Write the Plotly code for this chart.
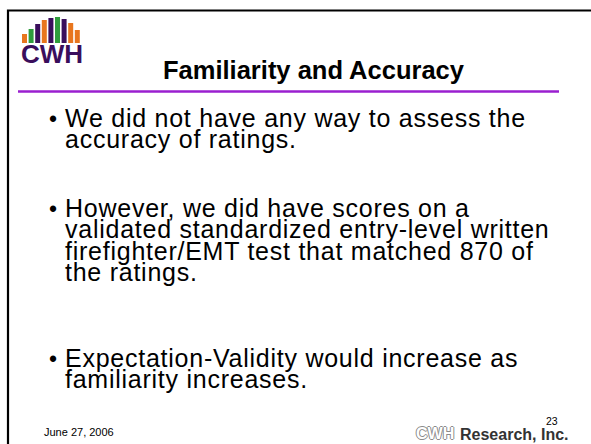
import plotly.graph_objects as go

W, H = 591, 444

title_text = "Familiarity and Accuracy"
bullets = [
    ["We did not have any way to assess the", "accuracy of ratings."],
    ["However, we did have scores on a", "validated standardized entry-level written",
     "firefighter/EMT test that matched 870 of", "the ratings."],
    ["Expectation-Validity would increase as", "familiarity increases."],
]
bullet_tops = [118, 208, 358]
line_gap = 21.3
footer_date = "June 27, 2006"
page_number = "23"
company_mark = "CWH"
company_name = "Research, Inc."

# logo bars: colours and heights (arched)
logo_colors = ["#E8761E", "#2E9C3C", "#3A0E5C", "#E8761E", "#3A0E5C", "#2E9C3C",
               "#3A0E5C", "#E8761E", "#E8761E"]
logo_heights = [9, 14, 19, 23, 25, 26, 24, 20, 13]

fig = go.Figure()
shapes = []
ann = []

# slide frame
shapes.append(dict(type="rect", x0=8, y0=10.5, x1=W + 5, y1=H + 5,
                   line=dict(color="black", width=2.2), fillcolor="white", layer="below"))

# logo bars
bx0 = 22
bw = 5
step = 6.6
for i, (c, h) in enumerate(zip(logo_colors, logo_heights)):
    x0 = bx0 + i * step
    shapes.append(dict(type="rect", x0=x0, x1=x0 + bw, y0=43 - h, y1=43,
                       line=dict(width=0), fillcolor=c))
ann.append(dict(x=52, y=54, text="<b>CWH</b>", showarrow=False, xanchor="center",
                yanchor="middle",
                font=dict(family="Liberation Sans", size=26, color="#3A0E5C")))

# title
ann.append(dict(x=314, y=70, text="<b>%s</b>" % title_text, showarrow=False,
                xanchor="center", yanchor="middle",
                font=dict(family="Liberation Sans", size=25.5, color="black")))
# purple rule
shapes.append(dict(type="line", x0=18, x1=559, y0=91.5, y1=91.5,
                   line=dict(color="#9A1FCF", width=2.5)))

# bullets: one text block per bullet, tight leading like the slide
span = '<span style="font-size:25px;letter-spacing:0.75px">%s</span>'
for top, lines in zip(bullet_tops, bullets):
    ann.append(dict(x=47, y=top + 1, text="•", showarrow=False, xanchor="left",
                    yanchor="middle", font=dict(family="Liberation Sans", size=23, color="black")))
    block = "<br>".join(span % ln for ln in lines)
    ann.append(dict(x=63, y=top + (len(lines) - 1) * line_gap / 2, text=block,
                    showarrow=False, xanchor="left", yanchor="middle", align="left",
                    font=dict(family="Liberation Sans", size=line_gap / 1.3, color="black")))

# footer
ann.append(dict(x=42, y=432, text=footer_date, showarrow=False, xanchor="left",
                yanchor="middle", font=dict(family="Liberation Sans", size=11, color="black")))
ann.append(dict(x=552, y=421, text=page_number, showarrow=False, xanchor="center",
                yanchor="middle", font=dict(family="Liberation Sans", size=10.5, color="black")))
ann.append(dict(x=414, y=433.5, text="<b>%s</b>" % company_mark, showarrow=False,
                xanchor="left", yanchor="middle",
                font=dict(family="Liberation Sans", size=16, color="white",
                          shadow="1px 0 0 #8a8a8a, -1px 0 0 #8a8a8a, 0 1px 0 #8a8a8a, 0 -1px 0 #8a8a8a")))
ann.append(dict(x=571, y=434, text="<b>%s</b>" % company_name, showarrow=False,
                xanchor="right", yanchor="middle",
                font=dict(family="Liberation Sans", size=16, color="#333333")))

fig.update_layout(
    width=W, height=H, margin=dict(l=0, r=0, t=0, b=0),
    paper_bgcolor="white", plot_bgcolor="white",
    xaxis=dict(range=[0, W], visible=False, fixedrange=True),
    yaxis=dict(range=[H, 0], visible=False, fixedrange=True),
    shapes=shapes, annotations=ann, showlegend=False,
)

fig.write_html("out.html", config={"displayModeBar": False},
               post_script="document.body.style.margin='0';")
